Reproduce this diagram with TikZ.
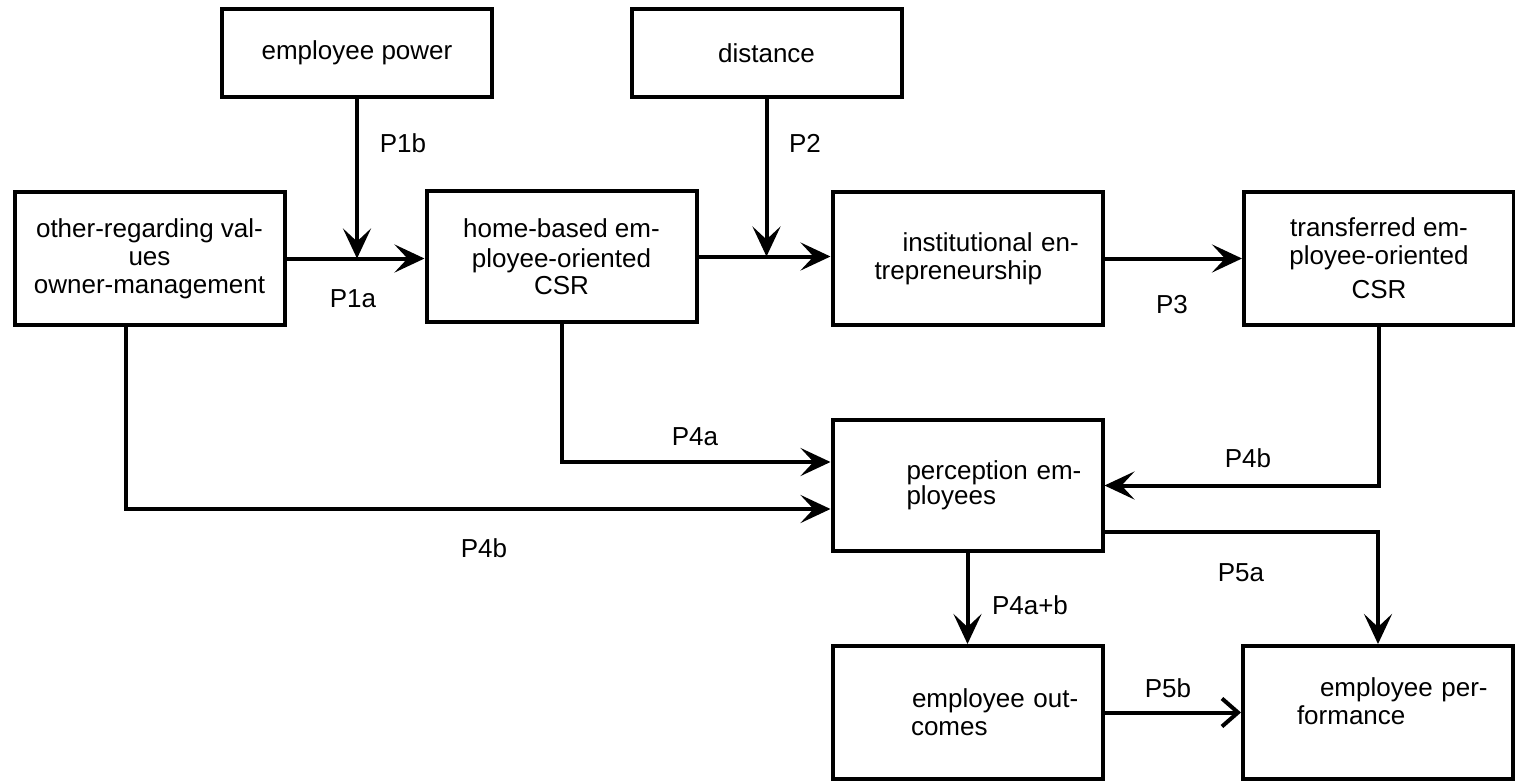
\documentclass[tikz,border=0pt]{standalone}
\usepackage{fontspec}
\setmainfont{Liberation Sans}
\usetikzlibrary{arrows.meta}
\begin{document}
\begin{tikzpicture}[x=1pt,y=-1pt,
  box/.style={draw, line width=4pt, minimum width=270pt, minimum height=133pt, inner sep=0pt, font=\fontsize{26pt}{28pt}\selectfont},
  topbox/.style={box, align=center, minimum height=88pt},
  lbox/.style={box, text width=270pt, align=left},
  cbox/.style={box, align=center},
  conn/.style={line width=4pt, -{Stealth[length=30pt,width=28pt,inset=13pt]}},
  openconn/.style={line width=4pt, -{Straight Barb[length=16pt,width=28pt]}},
  lab/.style={inner sep=0pt, font=\fontsize{26pt}{28pt}\selectfont}
]
\path[use as bounding box, fill=white] (0,0) rectangle (1515,782);

% boxes
\node[topbox] (ep) at (357,53) {employee power};
\node[topbox] (dist) at (766.5,53) {distance};
\node[cbox] (orv) at (149.5,258.5) {other-regarding val-\\ues\\owner-management};
\node[cbox, minimum height=131pt] (home) at (561.5,256.5) {home-based em-\\[2pt]ployee-oriented\\[-1pt]CSR};
\node[lbox] (inst) at (967.5,258.5) {\hspace*{70pt}institutional en-\\\hspace*{42pt}trepreneurship};
\node[cbox] (trans) at (1379,258.5) {transferred em-\\ployee-oriented\\[6pt]CSR};
\node[lbox, minimum height=131pt] (perc) at (967.5,485.5) {\hspace*{74pt}perception em-\\[-3pt]\hspace*{74pt}ployees};
\node[lbox] (outc) at (968,712.5) {\hspace*{79pt}employee out-\\\hspace*{78pt}comes};
\node[lbox] (perf) at (1378,712.5) {\hspace*{77pt}employee per-\\\hspace*{54pt}formance\\[-6pt]\mbox{}};

% connectors
\draw[conn] (orv.east) -- (orv.east -| home.west);
\draw[conn] (ep.south) -- (ep.south |- orv.east);
\draw[conn] (home.east) -- (home.east -| inst.west);
\draw[conn] (dist.south) -- (dist.south |- home.east);
\draw[conn] (inst.east) -- (inst.east -| trans.west);
\draw[conn] (home.south) |- ([yshift=23.5pt]perc.west);
\draw[conn] ([xshift=-23.5pt]orv.south) |- ([yshift=-23.5pt]perc.west);
\draw[conn] (trans.south) |- (perc.east);
\draw[conn] ([yshift=-46.5pt]perc.east) -| (perf.north);
\draw[conn] (perc.south) -- (perc.south |- outc.north);
\draw[openconn] (outc.east) -- (outc.east -| perf.west);

% labels
\node[lab] (l1b) at (403,143) {P1b};
\node[lab] (l1a) at (353,299) {P1a};
\node[lab] (l2) at (805,143) {P2};
\node[lab] (l3) at (1172,305) {P3};
\node[lab] (l4bR) at (1248,458) {P4b};
\node[lab] (l4a) at (695,437) {P4a};
\node[lab] (l4bL) at (484,548) {P4b};
\node[lab] (l5a) at (1241,573) {P5a};
\node[lab] (l4ab) at (1030,605) {P4a+b};
\node[lab] (l5b) at (1168,688) {P5b};
\end{tikzpicture}
\end{document}
